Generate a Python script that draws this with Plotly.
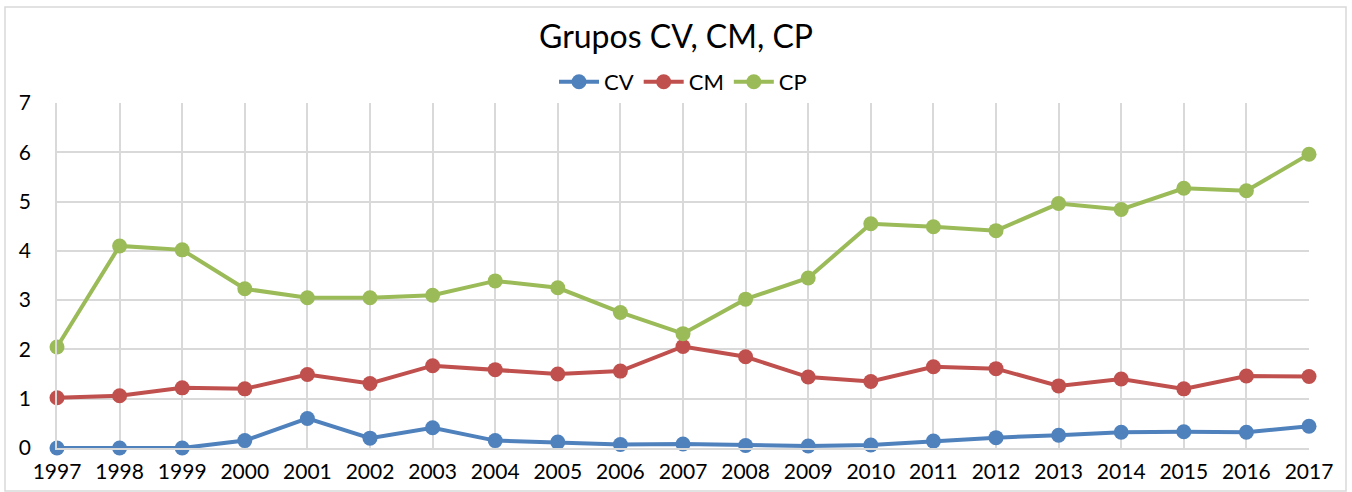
import plotly.graph_objects as go

years = list(range(1997, 2018))
cv = [0.0, 0.0, 0.0, 0.15, 0.60, 0.20, 0.41, 0.15, 0.12, 0.07, 0.08, 0.05, 0.04, 0.06, 0.14, 0.21, 0.26, 0.32, 0.33, 0.32, 0.44]
cm = [1.02, 1.06, 1.22, 1.20, 1.49, 1.31, 1.67, 1.59, 1.50, 1.56, 2.06, 1.85, 1.44, 1.35, 1.65, 1.61, 1.26, 1.40, 1.20, 1.46, 1.45]
cp = [2.05, 4.10, 4.02, 3.23, 3.05, 3.05, 3.10, 3.39, 3.25, 2.75, 2.32, 3.02, 3.45, 4.55, 4.49, 4.41, 4.96, 4.84, 5.27, 5.22, 5.96]

series = [("CV", cv, "#4F81BD"), ("CM", cm, "#C0504D"), ("CP", cp, "#9BBB59")]

fig = go.Figure()
for name, vals, col in series:
    fig.add_trace(go.Scatter(
        x=years, y=vals, name=name, mode="lines+markers",
        line=dict(color=col, width=4),
        marker=dict(color=col, size=15),
        cliponaxis=False,
    ))

W, H = 1352, 492
l, r, t, b = 57, 43, 103, 44
pw, ph = W - l - r, H - t - b

def px_x(x):
    return (x - l) / pw

def px_y(y):
    return (H - b - y) / ph

font = "Lato, 'Open Sans', sans-serif"
fig.update_layout(
    width=W, height=H,
    margin=dict(l=l, r=r, t=t, b=b, autoexpand=False),
    paper_bgcolor="white", plot_bgcolor="white",
    font=dict(family=font, color="#000000", size=20),
    title=dict(text="Grupos CV, CM, CP", x=0.5, xanchor="center",
               y=1 - 37 / H, yanchor="middle", font=dict(size=32, family=font)),
    legend=dict(orientation="h", x=0.5, xanchor="center", y=px_y(82), yanchor="middle",
                font=dict(size=22), itemwidth=40, tracegroupgap=0, bgcolor="rgba(0,0,0,0)"),
    showlegend=True,
    xaxis=dict(range=[1997, 2017], tickmode="array", tickvals=years,
               ticktext=[str(y) for y in years], showgrid=True, gridcolor="#D9D9D9",
               gridwidth=1.5, zeroline=False, showline=True, linecolor="#D9D9D9",
               linewidth=1.5, ticks="", tickfont=dict(size=21), automargin=False,
               ticklabelstandoff=4),
    yaxis=dict(range=[0, 7], dtick=1, showgrid=True, gridcolor="#D9D9D9", gridwidth=1.5,
               zeroline=False, showline=True, linecolor="#D9D9D9", linewidth=1.5,
               ticks="", tickfont=dict(size=21), automargin=False,
               ticklabelstandoff=20),
    shapes=[dict(type="rect", xref="paper", yref="paper",
                 x0=px_x(5), x1=px_x(1346), y0=px_y(491), y1=px_y(7),
                 line=dict(color="#D9D9D9", width=1.5), layer="below")],
)
fig.write_html("out.html", config={"displayModeBar": False},
               post_script="document.body.style.margin='0';document.body.style.overflow='hidden';")
